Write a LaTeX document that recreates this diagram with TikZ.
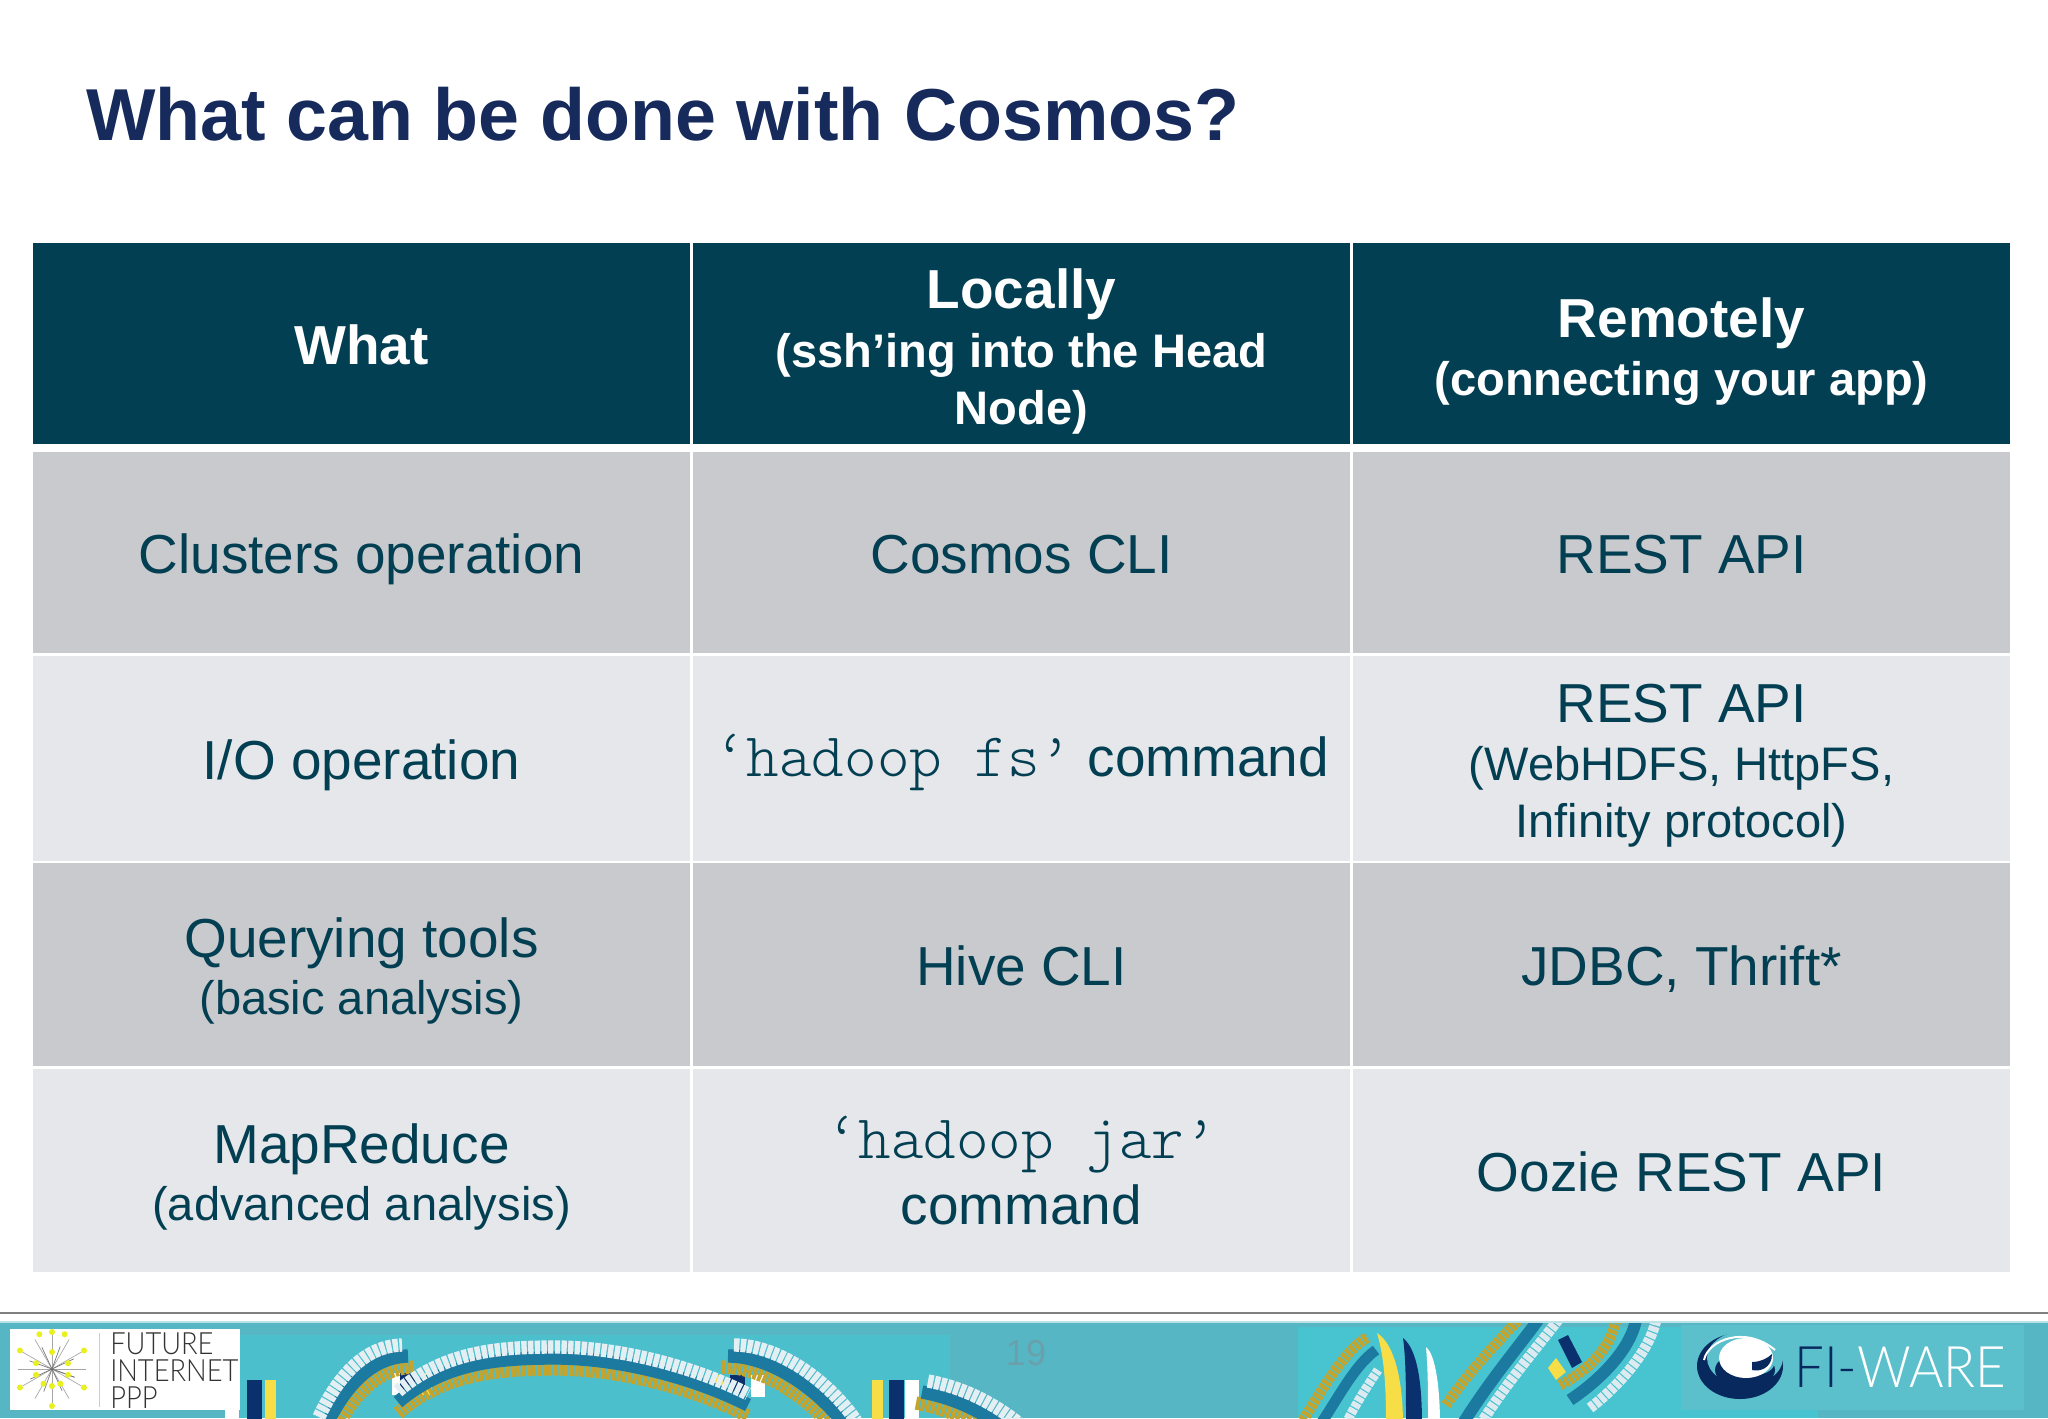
\documentclass[tikz,border=0pt]{standalone}
\usepackage{fontspec}
\setmainfont{Liberation Sans}
\setmonofont{Latin Modern Mono Light}
\newfontfamily\logofont{Lato Light}
\usetikzlibrary{positioning}
\definecolor{titlenavy}{RGB}{22,43,92}
\definecolor{headteal}{RGB}{3,63,82}
\definecolor{rowdark}{RGB}{201,202,205}
\definecolor{rowlight}{RGB}{230,231,234}
\definecolor{bannerteal}{RGB}{86,182,196}
\definecolor{bannerlight}{RGB}{72,195,208}
\definecolor{panelteal}{RGB}{92,192,204}
\definecolor{ribbonblue}{RGB}{28,122,160}
\definecolor{ribbongold}{RGB}{196,164,44}
\definecolor{ribbonnavy}{RGB}{10,48,110}
\definecolor{ribbonyellow}{RGB}{248,222,70}
\definecolor{logoyellow}{RGB}{232,240,30}
\newcommand{\bigline}{\fontsize{41.2}{43}\selectfont}
\newcommand{\subline}{\fontsize{35.3}{42}\selectfont}
\newcommand{\monoline}{\fontsize{46.5}{49}\selectfont\ttfamily}
\newcommand{\evenline}{\vphantom{g}\rule{0pt}{40pt}}
\newcommand{\ribbon}[2]{%
  \draw [line width=10pt,ribbongold,dash pattern=on 3pt off 1pt,shift={(#1,11)}] #2;
  \draw [line width=10pt,ribbonblue] #2;
  \draw [line width=10pt,white!88!ribbonblue,dash pattern=on 4pt off 1pt,shift={(-#1,-11)}] #2;
}
\tikzset{
  cell/.style={minimum width=492.75pt,minimum height=#1,inner sep=0pt,align=center,text=headteal,font=\bigline},
  head/.style={cell=150.75pt,fill=headteal,text=white,font=\bigline\bfseries},
  logotext/.style={anchor=west,inner sep=0pt,text=black!80,font=\logofont\fontsize{23}{23}\selectfont},
}
\begin{document}
\begin{tikzpicture}[x=0.75pt,y=0.75pt,yscale=-1,xscale=1]
\useasboundingbox (0,0) rectangle (2048,1418);

% Text Node
\node [anchor=west,inner sep=0pt,text=titlenavy,font=\bfseries\fontsize{55.2}{60}\selectfont] (title) at (86,114) {What can be done with Cosmos?};

% Header cells
\node [head] (what) at (361.5,343.5) {\evenline What};
\node [head] (locally) at (1021.5,343.5) {\rule{0pt}{42pt}Locally\\[1pt]\subline (ssh’ing into the Head\\\subline Node)};
\node [head] (remotely) at (1681.5,343.5) {\rule{0pt}{42pt}Remotely\\[1pt]\subline (connecting your app)};

% Row: clusters
\node [cell=151pt,fill=rowdark] (clusters) at (361.5,552.5) {\evenline Clusters operation};
\node [cell=151pt,fill=rowdark] (cosmoscli) at (1021.5,552.5) {\evenline Cosmos CLI};
\node [cell=151pt,fill=rowdark] (restapi) at (1681.5,552.5) {\evenline REST API};
% Row: io
\node [cell=154pt,fill=rowlight] (io) at (361.5,758.5) {\evenline I/O operation};
\node [cell=154pt,fill=rowlight] (hadoopfs) at (1021.5,758.5) {\rule{0pt}{37pt}{\monoline ‘hadoop fs’} command};
\node [cell=154pt,fill=rowlight] (webhdfs) at (1681.5,758.5) {\evenline REST API\\\subline (WebHDFS, HttpFS,\\\subline Infinity protocol)};
% Row: querying
\node [cell=152pt,fill=rowdark] (querying) at (361.5,964.5) {\evenline Querying tools\\\subline (basic analysis)};
\node [cell=152pt,fill=rowdark] (hivecli) at (1021.5,964.5) {\evenline Hive CLI};
\node [cell=152pt,fill=rowdark] (jdbc) at (1681.5,964.5) {\evenline JDBC, Thrift*};
% Row: mapreduce
\node [cell=152pt,fill=rowlight] (mapreduce) at (361.5,1170.5) {\evenline MapReduce\\\subline (advanced analysis)};
\node [cell=152pt,fill=rowlight] (hadoopjar) at (1021.5,1170.5) {\monoline ‘hadoop jar’\\[7pt]\bigline\rmfamily command};
\node [cell=152pt,fill=rowlight] (oozie) at (1681.5,1170.5) {\evenline Oozie REST API};

%Shape: Line
\draw [color=black!50,line width=1.5pt] (0,1313) -- (2048,1313);

%Shape: Banner
\fill [bannerteal!40!white] (0,1321) rectangle (2048,1418);
\fill [bannerteal] (0,1323) rectangle (2048,1418);
\begin{scope}
\clip (0,1323) rectangle (2048,1418);
\fill [bannerlight!70!bannerteal] (240,1335) rectangle (950,1418);
\fill [bannerlight] (1298,1327) rectangle (1818,1418);
% Stripes
\foreach \whitex/\navyx/\yellowx/\stripey/\stripeh in {225/247/265/1380/40,392/400/421/1373/22,751/730/712/1375/22,905/889/872/1380/40}{
  \fill [white] (\whitex,\stripey) rectangle ++(14,\stripeh);
  \fill [ribbonnavy] (\navyx,\stripey) rectangle ++(15,\stripeh);
  \fill [ribbonyellow] (\yellowx,\stripey) rectangle ++(11,\stripeh);
}
% Ribbons
\ribbon{6}{(325,1428) .. controls (345,1385) and (372,1357) .. (408,1356)}
\ribbon{0}{(398,1402) .. controls (445,1362) and (500,1358) .. (555,1358) .. controls (620,1358) and (695,1378) .. (748,1405)}
\ribbon{-6}{(728,1356) .. controls (775,1356) and (825,1395) .. (850,1432)}
\ribbon{-6}{(922,1392) .. controls (955,1398) and (985,1412) .. (1015,1436)}
% Right ribbons
\draw [line width=8pt,ribbongold,dash pattern=on 3pt off 1pt] (1300,1425) .. controls (1325,1385) and (1345,1350) .. (1368,1337);
\draw [line width=8pt,ribbonblue] (1320,1425) .. controls (1340,1395) and (1355,1365) .. (1376,1350);
\draw [line width=7pt,white!85!ribbonblue,dash pattern=on 4pt off 1pt] (1345,1425) .. controls (1358,1400) and (1368,1385) .. (1378,1370);
\fill [ribbonyellow] (1377,1333) .. controls (1396,1345) and (1403,1385) .. (1403,1425) -- (1386,1425) .. controls (1386,1390) and (1385,1360) .. (1377,1333) -- cycle;
\fill [ribbonnavy] (1403,1338) .. controls (1418,1350) and (1422,1385) .. (1422,1425) -- (1406,1425) .. controls (1406,1390) and (1406,1360) .. (1403,1338) -- cycle;
\fill [white] (1426,1347) .. controls (1436,1355) and (1440,1390) .. (1440,1425) -- (1428,1425) .. controls (1428,1390) and (1428,1370) .. (1426,1347) -- cycle;
\draw [line width=8pt,ribbongold,dash pattern=on 3pt off 1pt] (1446,1405) .. controls (1470,1370) and (1500,1340) .. (1518,1320);
\draw [line width=9pt,ribbonblue] (1462,1425) .. controls (1490,1380) and (1520,1345) .. (1538,1320);
\draw [line width=8pt,white!85!ribbonblue,dash pattern=on 4pt off 1pt] (1480,1425) .. controls (1505,1385) and (1535,1350) .. (1558,1320);
\draw [line width=8pt,ribbongold,dash pattern=on 3pt off 1pt] (1560,1385) .. controls (1590,1370) and (1612,1345) .. (1616,1320);
\draw [line width=9pt,ribbonblue] (1570,1400) .. controls (1600,1380) and (1630,1350) .. (1636,1320);
\draw [line width=8pt,white!85!ribbonblue,dash pattern=on 4pt off 1pt] (1590,1408) .. controls (1620,1385) and (1650,1350) .. (1656,1320);
\fill [ribbonnavy] (1558,1340) -- (1568,1335) -- (1582,1362) -- (1572,1368) -- cycle;
\fill [ribbonyellow] (1548,1368) -- (1556,1358) -- (1566,1372) -- (1556,1380) -- cycle;
\end{scope}

%Shape: Page number
\node [inner sep=0pt,text=bannerteal!88!red,font=\fontsize{27}{27}\selectfont] (pagenum) at (1026,1353) {19};

%Shape: Future Internet box
\fill [white] (10,1329) rectangle (240,1410);
\foreach \rayangle in {0,30,...,330}{
  \draw [black!35,line width=0.5pt] (52,1369) -- ++(\rayangle:34);
}
\foreach \rayangle in {20,65,...,380}{
  \draw [black!55,line width=0.5pt] (52,1369) -- ++(\rayangle:24);
}
\foreach \dotangle in {90,160,20,270,200,340,120,60}{
  \fill [logoyellow] (52,1369) ++(\dotangle:17) circle (3);
}
\foreach \dotangle in {90,270,150,30,210,330,250,290}{
  \fill [logoyellow] (52,1369) ++(\dotangle:37) circle (3);
}
\draw [black!20] (99,1333) -- (99,1407);
\node [logotext] (future) at (110,1344) {\scalebox{0.89}[1]{FUTURE}};
\node [logotext] (internet) at (110,1371) {\scalebox{0.89}[1]{INTERNET}};
\node [logotext] (ppp) at (110,1398) {\scalebox{0.89}[1]{PPP}};

%Shape: FI-WARE panel
\fill [panelteal] (1681,1325) rectangle (2024,1410);
\fill [ribbonnavy!85!black] (1740,1366) circle (43 and 33);
\fill [panelteal] (1745,1358) circle (38 and 27);
\fill [ribbonnavy!85!black] (1745,1370) circle (30 and 18);
\fill [panelteal] (1748,1364) circle (26 and 12);
\fill [white] (1746,1358) circle (27 and 20);
\fill [ribbonnavy!85!black] (1752,1362) .. controls (1760,1362) and (1768,1358) .. (1772,1354) .. controls (1772,1368) and (1760,1372) .. (1752,1370) -- cycle;
\draw [white,line width=1.5pt] (1704,1360) .. controls (1708,1340) and (1745,1325) .. (1775,1350);
\node [anchor=west,inner sep=0pt,font=\logofont\fontsize{43}{43}\selectfont] (fiware) at (1794,1367) {\scalebox{0.92}[1]{\textcolor{ribbonnavy!85!black}{FI-}\textcolor{white}{WARE}}};
\end{tikzpicture}
\end{document}
